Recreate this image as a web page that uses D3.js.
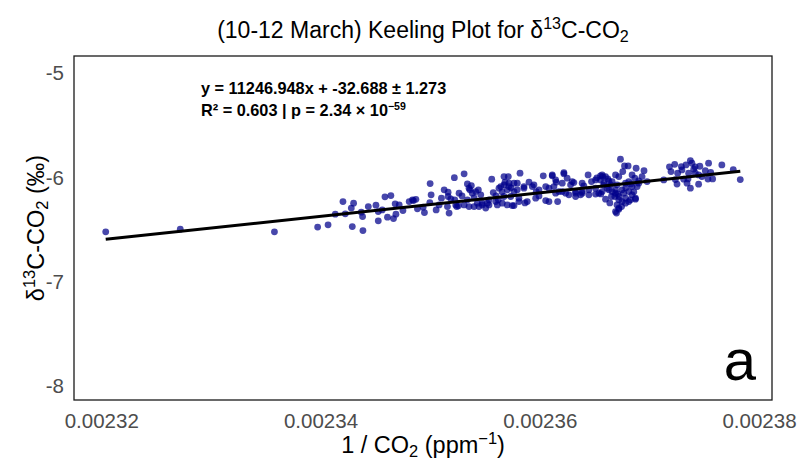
<!DOCTYPE html>
<html>
<head>
<meta charset="utf-8">
<script src="https://cdn.jsdelivr.net/npm/d3@7"></script>
<style>
  body { margin: 0; background: #fff; }
  svg text { font-family: "Liberation Sans", Arial, Helvetica, sans-serif; }
  .tick-label { fill: #4d4d4d; font-size: 20.5px; }
  .axis-title { fill: #000; font-size: 23.5px; }
  .plot-title { fill: #000; font-size: 23px; }
  .note { fill: #000; font-size: 16.3px; font-weight: bold; }
</style>
</head>
<body>
<svg id="chart"></svg>
<script>
// 1 / CO2 (ppm^-1)
const invCO2 = [
  0.00232041, 0.00232721, 0.00233580, 0.00233974, 0.00234069, 0.00234135, 0.00234205, 0.00234226,
  0.00234281, 0.00234302, 0.00234290, 0.00234387, 0.00234384, 0.00234372, 0.00234436, 0.00234506,
  0.00234527, 0.00234527, 0.00234563, 0.00234588, 0.00234642, 0.00234611, 0.00234666, 0.00234688,
  0.00234681, 0.00234718, 0.00234752, 0.00234809, 0.00234839, 0.00234848, 0.00234870, 0.00234884,
  0.00234936, 0.00234948, 0.00235000, 0.00234997, 0.00235082, 0.00235103, 0.00235158, 0.00235164,
  0.00235164, 0.00235173, 0.00235189, 0.00235221, 0.00235225, 0.00235243, 0.00235258, 0.00235264,
  0.00235310, 0.00235310, 0.00235340, 0.00235355, 0.00235362, 0.00235376, 0.00235385, 0.00235431,
  0.00235440, 0.00235446, 0.00235462, 0.00235476, 0.00235507, 0.00235522, 0.00235537, 0.00235562,
  0.00235576, 0.00235613, 0.00235622, 0.00235644, 0.00235674, 0.00235674, 0.00235683, 0.00235704,
  0.00235713, 0.00235719, 0.00235735, 0.00235765, 0.00235765, 0.00235795, 0.00235810, 0.00235820,
  0.00235856, 0.00235886, 0.00235902, 0.00235947, 0.00235968, 0.00236032, 0.00236054, 0.00236054,
  0.00236084, 0.00236114, 0.00236129, 0.00236150, 0.00236163, 0.00236175, 0.00236205, 0.00236220,
  0.00236236, 0.00236281, 0.00236311, 0.00236327, 0.00236327, 0.00236372, 0.00236387, 0.00236441,
  0.00236472, 0.00236509, 0.00236539, 0.00236554, 0.00236554, 0.00236569, 0.00236569, 0.00236575,
  0.00236584, 0.00236584, 0.00236600, 0.00236600, 0.00236614, 0.00236654, 0.00236660, 0.00236660,
  0.00236685, 0.00236691, 0.00236700, 0.00236705, 0.00236721, 0.00236721, 0.00236721, 0.00236736,
  0.00236746, 0.00236751, 0.00236757, 0.00236766, 0.00236773, 0.00236782, 0.00236782, 0.00236806,
  0.00236812, 0.00236812, 0.00236827, 0.00236842, 0.00236842, 0.00236867, 0.00236873, 0.00236879,
  0.00236888, 0.00236933, 0.00236951, 0.00236979, 0.00237131, 0.00237183, 0.00237197, 0.00237231,
  0.00237237, 0.00237252, 0.00237258, 0.00237292, 0.00237297, 0.00237313, 0.00237334, 0.00237343,
  0.00237352, 0.00237358, 0.00237374, 0.00237374, 0.00237388, 0.00237404, 0.00237417, 0.00237419,
  0.00237449, 0.00237449, 0.00237460, 0.00237479, 0.00237510, 0.00237534, 0.00237540, 0.00237559,
  0.00237577, 0.00237661, 0.00237765, 0.00237829, 0.00235656, 0.00235738, 0.00235601, 0.00235291,
  0.00235401, 0.00235993, 0.00236402, 0.00236448, 0.00236648, 0.00236621, 0.00236785, 0.00236858,
  0.00236903, 0.00236639, 0.00236712,
  0.00236114, 0.00236220, 0.00236250, 0.00235234, 0.00235340, 0.00235401, 0.00235476, 0.00235537,
  0.00235598, 0.00235658, 0.00235704, 0.00235749, 0.00235810, 0.00235865, 0.00235963, 0.00235355,
  0.00235416, 0.00235628, 0.00235674, 0.00235719, 0.00235765, 0.00235795, 0.00235856, 0.00235932,
  0.00235993, 0.00236084, 0.00236145, 0.00236205, 0.00236266, 0.00236327, 0.00236387, 0.00236448,
  0.00236509, 0.00236557, 0.00236630, 0.00236691, 0.00236721, 0.00236782, 0.00236842, 0.00236691,
  0.00236721, 0.00236705, 0.00236751, 0.00236812, 0.00236873, 0.00236145, 0.00236296, 0.00236387,
  0.00236509, 0.00236521, 0.00236630, 0.00236691, 0.00236830, 0.00236903, 0.00235009, 0.00235055,
  0.00235128
];

// delta 13C of CO2 (per mil), same order as invCO2
const d13C = [
  -6.519, -6.494, -6.519, -6.474, -6.452, -6.350, -6.229, -6.347,
  -6.292, -6.245, -6.469, -6.507, -6.373, -6.331, -6.277, -6.264,
  -6.325, -6.414, -6.309, -6.184, -6.172, -6.379, -6.392, -6.350,
  -6.251, -6.261, -6.315, -6.229, -6.213, -6.220, -6.208, -6.299,
  -6.283, -6.335, -6.057, -6.239, -6.261, -6.197, -6.277, -6.139,
  -6.181, -6.340, -6.203, -6.000, -6.213, -6.277, -6.270, -6.149,
  -5.964, -6.261, -6.060, -6.277, -6.117, -6.076, -6.149, -6.245,
  -6.117, -6.277, -6.165, -6.261, -6.292, -6.245, -6.213, -6.015,
  -6.143, -6.261, -6.213, -6.086, -5.990, -6.181, -6.044, -6.117,
  -5.990, -6.053, -6.181, -6.053, -6.268, -6.117, -6.197, -5.957,
  -6.086, -6.229, -6.044, -6.069, -6.134, -5.983, -6.086, -6.220,
  -6.229, -5.983, -6.086, -6.044, -6.229, -6.134, -6.053, -5.964,
  -6.149, -6.069, -6.047, -6.134, -6.181, -6.165, -6.149, -5.974,
  -6.038, -6.101, -6.149, -5.983, -6.022, -5.974, -6.134, -5.990,
  -6.053, -6.074, -5.990, -6.206, -6.101, -6.181, -6.038, -6.134,
  -6.181, -6.117, -6.340, -6.069, -5.990, -6.213, -6.302, -5.823,
  -6.277, -6.117, -5.942, -6.149, -5.888, -6.053, -6.245, -5.888,
  -6.038, -6.134, -6.213, -5.974, -6.086, -6.005, -6.206, -5.910,
  -6.086, -5.990, -5.933, -6.038, -6.022, -5.897, -5.942, -5.873,
  -6.019, -6.062, -5.957, -5.894, -5.926, -6.015, -5.878, -6.053,
  -6.012, -5.957, -5.837, -6.101, -5.862, -5.919, -5.897, -5.957,
  -5.974, -6.063, -5.891, -5.990, -5.933, -6.014, -5.862, -5.950,
  -6.012, -5.878, -5.923, -6.019, -6.136, -6.098, -6.175, -6.175,
  -6.194, -6.175, -6.079, -6.117, -6.069, -6.012, -6.098, -6.136,
  -6.031, -6.242, -6.156,
  -5.974, -5.952, -6.005, -6.261, -6.213, -6.277, -6.245, -6.261,
  -6.229, -6.245, -6.261, -6.268, -6.229, -6.242, -6.197, -6.101,
  -6.134, -6.101, -6.069, -6.086, -6.134, -6.053, -6.101, -6.086,
  -6.117, -6.101, -6.149, -6.134, -6.165, -6.149, -6.134, -6.165,
  -6.158, -6.156, -6.117, -6.149, -6.181, -6.197, -6.165, -6.325,
  -6.292, -6.261, -6.229, -6.229, -6.197, -6.022, -6.038, -6.053,
  -6.022, -6.002, -6.031, -5.974, -6.060, -6.053, -6.165, -6.309,
  -6.117
];

// linear fit reported on the chart
const slope = 11246.948;
const intercept = -32.688;
const slopeErr = 1.273;
const rSquared = 0.603;

const xTicks = [0.00232, 0.00234, 0.00236, 0.00238];
const yTicks = [-8, -7, -6, -5];
const yLimits = [-8.13, -4.835];

const width = 800, height = 460;
const margin = {top: 56, right: 28, bottom: 60, left: 74};

const svg = d3.select("#chart").attr("width", width).attr("height", height);

// ggplot style 5% padding round the data on x
const xExt = d3.extent(invCO2);
const xPad = (xExt[1] - xExt[0]) * 0.05;
const x = d3.scaleLinear()
  .domain([xExt[0] - xPad, xExt[1] + xPad])
  .range([margin.left, width - margin.right]);
const y = d3.scaleLinear()
  .domain(yLimits)
  .range([height - margin.bottom, margin.top]);

const points = invCO2.map((v, i) => ({x: v, y: d13C[i]}));

// points
svg.append("g")
  .selectAll("circle")
  .data(points)
  .enter().append("circle")
  .attr("cx", d => x(d.x))
  .attr("cy", d => y(d.y))
  .attr("r", 3.4)
  .attr("fill", "#00008b")
  .attr("fill-opacity", 0.72);

// fitted line over the range of the data
const line = d3.line().x(d => x(d)).y(d => y(slope * d + intercept));
svg.append("path")
  .datum(xExt)
  .attr("d", line)
  .attr("fill", "none")
  .attr("stroke", "#000")
  .attr("stroke-width", 3);

// panel border
svg.append("rect")
  .attr("x", margin.left)
  .attr("y", margin.top)
  .attr("width", width - margin.left - margin.right)
  .attr("height", height - margin.top - margin.bottom)
  .attr("fill", "none")
  .attr("stroke", "#1a1a1a")
  .attr("stroke-width", 1.3);

// axes, tick labels only
const xAxis = svg.append("g")
  .attr("transform", `translate(0,${height - margin.bottom})`)
  .call(d3.axisBottom(x).tickValues(xTicks).tickSize(0).tickPadding(13).tickFormat(d3.format(".5f")));
const yAxis = svg.append("g")
  .attr("transform", `translate(${margin.left},0)`)
  .call(d3.axisLeft(y).tickValues(yTicks).tickSize(0).tickPadding(10).tickFormat(d3.format("d")));
[xAxis, yAxis].forEach(g => {
  g.select(".domain").remove();
  g.selectAll("text").attr("class", "tick-label").attr("font-size", null).attr("font-family", null);
});
yAxis.selectAll("text").text(d => String(d).replace("\u2212", "-"));

// title
const title = svg.append("text")
  .attr("x", (margin.left + width - margin.right) / 2)
  .attr("y", 38)
  .attr("text-anchor", "middle")
  .attr("class", "plot-title");
title.append("tspan").text("(10-12 March) Keeling Plot for \u03b4");
title.append("tspan").attr("font-size", "70%").attr("dy", "-0.55em").text("13");
title.append("tspan").attr("dy", "0.39em").text("C-CO");
title.append("tspan").attr("font-size", "70%").attr("dy", "0.25em").text("2");

// x axis title
const xTitle = svg.append("text")
  .attr("x", (margin.left + width - margin.right) / 2)
  .attr("y", 453)
  .attr("text-anchor", "middle")
  .attr("class", "axis-title");
xTitle.append("tspan").text("1 / CO");
xTitle.append("tspan").attr("font-size", "70%").attr("dy", "0.25em").text("2");
xTitle.append("tspan").attr("dy", "-0.18em").text(" (ppm");
xTitle.append("tspan").attr("font-size", "70%").attr("dy", "-0.55em").text("\u22121");
xTitle.append("tspan").attr("dy", "0.39em").text(")");

// y axis title
const yTitle = svg.append("text")
  .attr("transform", `translate(44,${(margin.top + height - margin.bottom) / 2}) rotate(-90)`)
  .attr("text-anchor", "middle")
  .attr("class", "axis-title");
yTitle.append("tspan").text("\u03b4");
yTitle.append("tspan").attr("font-size", "70%").attr("dy", "-0.55em").text("13");
yTitle.append("tspan").attr("dy", "0.39em").text("C-CO");
yTitle.append("tspan").attr("font-size", "70%").attr("dy", "0.25em").text("2");
yTitle.append("tspan").attr("dy", "-0.18em").text(" (\u2030)");

// fit annotation
svg.append("text")
  .attr("class", "note")
  .attr("x", 201)
  .attr("y", 94)
  .text(`y = ${slope.toFixed(3)}x + ${intercept.toFixed(3)} \u00b1 ${slopeErr.toFixed(3)}`);
const note2 = svg.append("text")
  .attr("class", "note")
  .attr("x", 201)
  .attr("y", 116);
note2.append("tspan").text(`R\u00b2 = ${rSquared.toFixed(3)} | p = 2.34 \u00d7 10`);
note2.append("tspan").attr("font-size", "65%").attr("dy", "-0.6em").text("\u221259");

// panel tag
svg.append("text")
  .attr("x", width - margin.right - 16)
  .attr("y", height - margin.bottom - 20)
  .attr("text-anchor", "end")
  .attr("font-size", 58)
  .attr("fill", "#000")
  .text("a");
</script>
</body>
</html>
